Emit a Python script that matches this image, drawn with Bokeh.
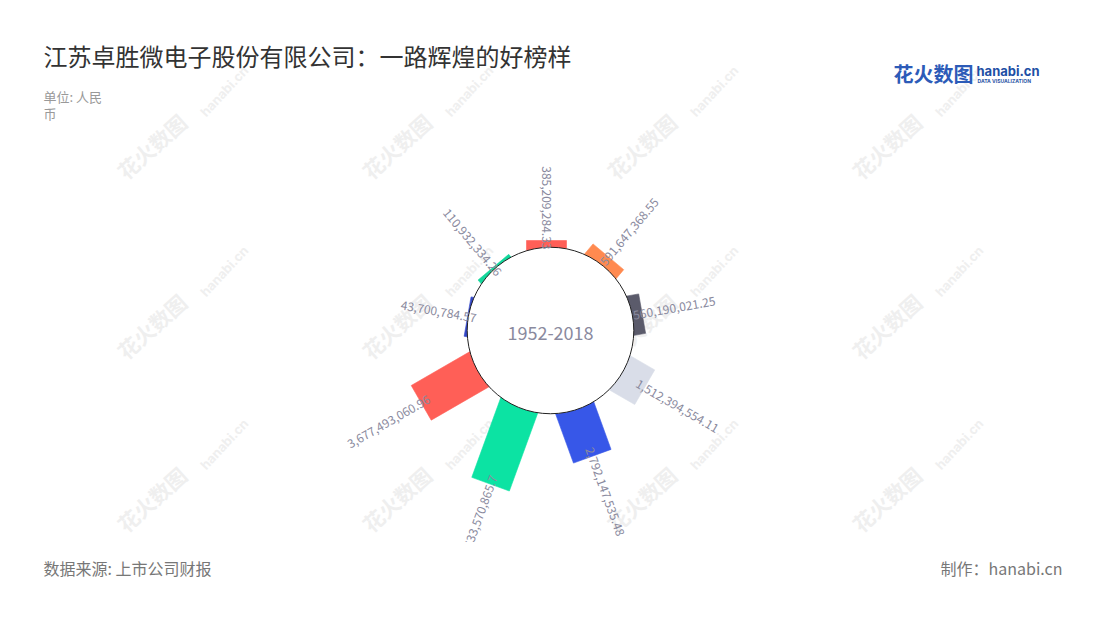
import math
from bokeh.plotting import figure
from bokeh.layouts import column
from bokeh.models import Range1d
from bokeh.embed import file_html
from bokeh.resources import INLINE
from bokeh.core.properties import value

# ---------------- data ----------------
years = ["2016", "2017", "2018", "2019", "2020", "2021", "2022", "2014", "2015"]
revenue = [385209284.33, 591647368.55, 560190021.25, 1512394554.11, 2792147535.48,
           4633570865.7, 3677493060.96, 43700784.57, 110932334.26]
colors = ["#ff5f57", "#ff8a50", "#5b5b6b", "#d9dde8", "#3757e8",
          "#0ce3a3", "#ff5f57", "#3347c8", "#12d79b"]
title = "江苏卓胜微电子股份有限公司：一路辉煌的好榜样"
subtitle_lines = ["单位: 人民", "币"]
center_label = "1952-2018"
source_text = "数据来源: 上市公司财报"
maker_text = "制作：hanabi.cn"

FONT = value("Noto Sans CJK SC")

# ---------------- layout ----------------
W, H1, H2 = 1100, 542, 70
cx, cy = 550, 212          # centre of the inner circle (data = pixels)
bx = 546                    # bars radiate from a point slightly left of the circle centre
r_in = 83.3                 # inner circle radius
r_len_max = 81.7            # bar length (px) of the largest value
bar_half = 20.0
label_color = "#8a8a9e"


def fmt(v):
    s = f"{v:,.2f}"
    if "." in s:
        s = s.rstrip("0").rstrip(".")
    return s


def sy(y):  # page y -> data y in main figure
    return H1 - y


def sx(x):
    return x


p = figure(width=W, height=H1, x_range=Range1d(0, W), y_range=Range1d(0, H1),
           output_backend="svg", toolbar_location=None,
           x_axis_type=None, y_axis_type=None, min_border=0)
p.grid.visible = False
p.outline_line_color = None
p.background_fill_color = "white"
p.border_fill_color = "white"

# watermarks
wm_cols = [130, 375, 620, 865]
wm_rows = [185, 365, 538]
for wx in wm_cols:
    for wy in wm_rows:
        p.text(x=[sx(wx)], y=[sy(wy)], text=["花火数图"], angle=math.radians(42),
               text_font=FONT, text_font_size="21px", text_font_style="bold",
               text_color="#efefef", text_baseline="bottom", text_align="left")
        p.text(x=[sx(wx + 78)], y=[sy(wy - 66)], text=["hanabi.cn"], angle=math.radians(47),
               text_font=value("Inter"), text_font_size="13px", text_font_style="bold",
               text_color="#efefef", text_baseline="bottom", text_align="left")

# bars
n = len(revenue)
vmax = max(revenue)
scale = r_len_max / vmax
ox, oy = bx - cx, 0.0
xs, ys, lx, ly, la, lal, ltxt = [], [], [], [], [], [], []
for i, v in enumerate(revenue):
    deg = 90 - 360.0 / n * i
    th = math.radians(deg)
    ux, uy = math.cos(th), math.sin(th)
    nx, ny = -uy, ux
    # distance from the bar origin to the circle edge along this direction
    bdot = ox * ux + oy * uy
    d_edge = -bdot + math.sqrt(bdot * bdot - (ox * ox + oy * oy) + r_in * r_in)
    r0 = d_edge - 20
    r1 = d_edge + scale * v
    xs.append([bx + r0 * ux + bar_half * nx, bx + r1 * ux + bar_half * nx,
               bx + r1 * ux - bar_half * nx, bx + r0 * ux - bar_half * nx])
    ys.append([cy + r0 * uy + bar_half * ny, cy + r1 * uy + bar_half * ny,
               cy + r1 * uy - bar_half * ny, cy + r0 * uy - bar_half * ny])
    ra = r1 - 9
    lx.append(bx + ra * ux)
    ly.append(cy + ra * uy)
    d = (deg + 180) % 360 - 180
    if -90 < d < 90:
        la.append(math.radians(d))
        lal.append("left")
    else:
        la.append(math.radians(d - 180))
        lal.append("right")
    ltxt.append(fmt(v))

p.patches(xs=xs, ys=ys, fill_color=colors, line_color=colors, line_width=0.6)

# inner circle
p.circle(x=[cx], y=[cy], radius=r_in, fill_color="white", line_color="#222222", line_width=1)

# value labels
for i in range(n):
    p.text(x=[lx[i]], y=[ly[i]], text=[ltxt[i]], angle=la[i], text_align=lal[i],
           text_baseline="middle", text_font=FONT, text_font_size="12px",
           text_color=label_color)

# centre label
p.text(x=[cx], y=[cy - 2], text=[center_label], text_align="center", text_baseline="middle",
       text_font=FONT, text_font_size="18px", text_color=label_color)

# title & subtitle
p.text(x=[sx(43)], y=[sy(55)], text=[title], text_baseline="middle",
       text_font=FONT, text_font_size="24px", text_color="#333333")
for k, line in enumerate(subtitle_lines):
    p.text(x=[sx(43)], y=[sy(96 + 17 * k)], text=[line], text_baseline="middle",
           text_font=FONT, text_font_size="13px", text_color="#999999")

# logo
p.text(x=[sx(893)], y=[sy(73)], text=["花火数图"], text_baseline="middle",
       text_font=FONT, text_font_size="20px", text_font_style="bold", text_color="#2c5bb8")
p.text(x=[sx(976)], y=[sy(70)], text=["hanabi.cn"], text_baseline="middle",
       text_font=value("Inter"), text_font_size="13px", text_font_style="bold", text_color="#1d4fa5")
p.text(x=[sx(977)], y=[sy(80)], text=["DATA VISUALIZATION"], text_baseline="middle",
       text_font=value("Inter"), text_font_size="5px", text_font_style="bold", text_color="#2a55a5")

# footer figure
f = figure(width=W, height=H2, x_range=Range1d(0, W), y_range=Range1d(0, H2),
           output_backend="svg", toolbar_location=None,
           x_axis_type=None, y_axis_type=None, min_border=0)
f.grid.visible = False
f.outline_line_color = None
f.text(x=[sx(43)], y=[H2 - (567 - H1)], text=[source_text], text_baseline="middle",
       text_font=FONT, text_font_size="16px", text_color="#777777")
f.text(x=[sx(1062)], y=[H2 - (567 - H1)], text=[maker_text], text_baseline="middle",
       text_align="right", text_font=FONT, text_font_size="16px", text_color="#777777")

layout = column(p, f, spacing=0)
open("out.html", "w").write(file_html(layout, INLINE))
